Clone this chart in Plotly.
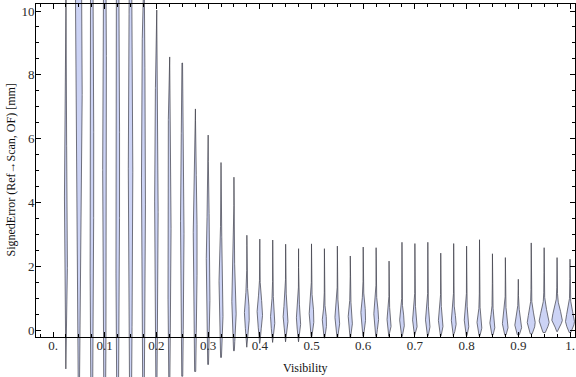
import numpy as np
import plotly.graph_objects as go

# ---- data ----
visibility = [round(0.025 * k, 3) for k in range(1, 41)]
err_min = [-1.22, -2.0, -2.0, -2.0, -2.0, -2.0, -2.0, -1.8, -1.6, -1.45,
           -1.30, -1.08, -0.86, -0.65, -0.54, -0.42, -0.39, -0.37, -0.37, -0.21,
           -0.25, -0.22, -0.25, -0.20, -0.20, -0.20, -0.20, -0.18, -0.18, -0.18,
           -0.18, -0.18, -0.18, -0.16, -0.16, -0.15, -0.12, -0.08, -0.05, -0.08]
err_max = [11.0, 14.0, 13.0, 13.0, 13.0, 12.0, 11.5, 10.03, 8.56, 8.37,
           6.93, 6.11, 5.25, 4.79, 2.97, 2.85, 2.82, 2.69, 2.55, 2.70,
           2.55, 2.63, 2.32, 2.60, 2.58, 2.16, 2.75, 2.71, 2.75, 2.41,
           2.71, 2.63, 2.83, 2.39, 2.27, 1.59, 2.73, 2.58, 2.27, 2.22]
err_mode = [3.0, 9.0, 5.0, 5.0, 5.0, 5.0, 4.5, 4.0, 3.5, 3.0,
            2.5, 1.5, 0.9, 0.6, 0.45, 0.5, 0.33, 0.38, 0.28, 0.35,
            0.22, 0.3, 0.28, 0.4, 0.36, 0.2, 0.2, 0.2, 0.2, 0.2,
            0.2, 0.2, 0.15, 0.15, 0.15, 0.12, 0.2, 0.25, 0.3, 0.25]
spread_low = [1.8, 6.0, 6.0, 6.0, 6.0, 6.0, 5.0, 4.0, 3.5, 3.0,
              2.5, 1.5, 1.0, 0.7, 0.4, 0.4, 0.3, 0.3, 0.25, 0.3,
              0.25, 0.28, 0.25, 0.3, 0.3, 0.2, 0.2, 0.2, 0.2, 0.2,
              0.2, 0.2, 0.18, 0.18, 0.18, 0.18, 0.2, 0.2, 0.15, 0.18]
spread_high = [2.0, 6.0, 7.0, 7.0, 7.0, 6.0, 5.0, 3.5, 3.0, 3.0,
               2.2, 1.8, 1.3, 0.9, 0.5, 0.45, 0.4, 0.4, 0.35, 0.4,
               0.3, 0.35, 0.35, 0.4, 0.35, 0.28, 0.28, 0.28, 0.28, 0.28,
               0.28, 0.28, 0.28, 0.28, 0.28, 0.3, 0.3, 0.3, 0.3, 0.3]
peak_density = [3.5, 7.0, 4.0, 4.0, 4.0, 4.5, 4.0, 3.5, 3.5, 3.5,
                4.0, 4.0, 4.5, 4.5, 5.0, 5.5, 4.5, 5.0, 4.5, 5.0,
                4.5, 5.0, 4.5, 5.0, 5.0, 4.5, 5.0, 5.0, 5.0, 5.0,
                5.0, 5.0, 5.3, 5.3, 6.0, 7.0, 8.0, 10.0, 10.5, 9.0]

x_ticks = [0.0, 0.1, 0.2, 0.3, 0.4, 0.5, 0.6, 0.7, 0.8, 0.9, 1.0]
x_ticktext = ["0.", "0.1", "0.2", "0.3", "0.4", "0.5", "0.6", "0.7", "0.8", "0.9", "1."]
y_ticks = [0, 2, 4, 6, 8, 10]
x_title = "Visibility"
y_title = "SignedError (Ref\u2192Scan, OF) [mm]"

# ---- geometry ----
W, H = 576, 377
PX_X = 517.0   # pixels per unit visibility
PX_Y = 31.9    # pixels per mm
X0, Y0 = 53.0, 330.0  # pixel position of (0, 0)

def px_to_x(p):
    return (p - X0) / PX_X

def py_to_y(p):
    return (Y0 - p) / PX_Y

width_scale = 0.5 / PX_X  # full-width pixels -> half-width in x units

xs_all, ys_all = [], []
for v, lo, hi, m, sl, sh, pk in zip(visibility, err_min, err_max, err_mode,
                                     spread_low, spread_high, peak_density):
    y = np.linspace(lo, hi, 400)
    z = np.where(y < m, (y - m) / sl, (y - m) / sh)
    core = np.exp(-0.5 * z ** 2)
    tail = np.where(y < m, (y - lo) / (m - lo), (hi - y) / (hi - m))
    w = pk * width_scale * (0.88 * core + 0.12 * np.clip(tail, 0, 1))
    xs = np.concatenate([v - w, (v + w)[::-1], [v - w[0]]])
    ys = np.concatenate([y, y[::-1], [y[0]]])
    xs_all += list(xs) + [None]
    ys_all += list(ys) + [None]

fig = go.Figure()
fig.add_trace(go.Scatter(
    x=xs_all, y=ys_all, mode="lines", fill="toself",
    fillcolor="rgb(204,211,245)",
    line=dict(color="rgba(60,60,70,0.7)", width=1),
    hoverinfo="skip", showlegend=False, xaxis="x", yaxis="y"))

# empty trace so the frame subplot exists
fig.add_trace(go.Scatter(x=[None], y=[None], xaxis="x2", yaxis="y2",
                         showlegend=False, hoverinfo="skip"))

serif = "Liberation Serif, Times New Roman, serif"
tick_font = dict(family=serif, size=13, color="#2a2a2a")
title_font = dict(family=serif, size=12, color="#111")

fig.update_layout(
    width=W, height=H,
    margin=dict(l=0, r=0, t=0, b=0, pad=0),
    paper_bgcolor="white", plot_bgcolor="rgba(0,0,0,0)",
    font=tick_font,
    xaxis=dict(domain=[0, 1], range=[px_to_x(0), px_to_x(W)], visible=False,
               anchor="y", fixedrange=True),
    yaxis=dict(domain=[0, 1], range=[py_to_y(H), py_to_y(0)], visible=False,
               anchor="x", fixedrange=True),
    xaxis2=dict(domain=[36 / W, 575 / W], range=[px_to_x(36), px_to_x(575)],
                anchor="y2", showline=True, linecolor="black", linewidth=1,
                mirror="ticks", ticks="inside", ticklen=5, tickcolor="black",
                tickvals=x_ticks, ticktext=x_ticktext, showgrid=False,
                zeroline=False, automargin=False, ticklabeloverflow="allow",
                ticklabelstandoff=-3, fixedrange=True,
                minor=dict(ticks="inside", dtick=0.025, tick0=0, ticklen=3,
                           tickcolor="black", showgrid=False),
                tickfont=tick_font),
    yaxis2=dict(domain=[1 - 336.7 / H, 1 - 4.3 / H],
                range=[py_to_y(336.7), py_to_y(4.3)],
                anchor="x2", showline=True, linecolor="black", linewidth=1,
                mirror="ticks", ticks="inside", ticklen=5, tickcolor="black",
                tickvals=y_ticks, showgrid=False, zeroline=False, automargin=False,
                ticklabeloverflow="allow", ticklabelstandoff=-2, fixedrange=True,
                minor=dict(ticks="inside", dtick=0.5, tick0=0, ticklen=3,
                           tickcolor="black", showgrid=False),
                tickfont=tick_font),
    annotations=[
        dict(text=x_title, xref="paper", yref="paper", x=305.5 / W, y=1 - 368 / H,
             xanchor="center", yanchor="middle", showarrow=False, font=title_font),
        dict(text=y_title, xref="paper", yref="paper", x=10 / W, y=1 - 170.5 / H,
             xanchor="center", yanchor="middle", showarrow=False, textangle=-90,
             font=title_font),
    ],
)

fig.write_html(
    "out.html",
    config={"displayModeBar": False, "staticPlot": True},
    post_script="document.body.style.margin='0';document.body.style.overflow='hidden';",
)
